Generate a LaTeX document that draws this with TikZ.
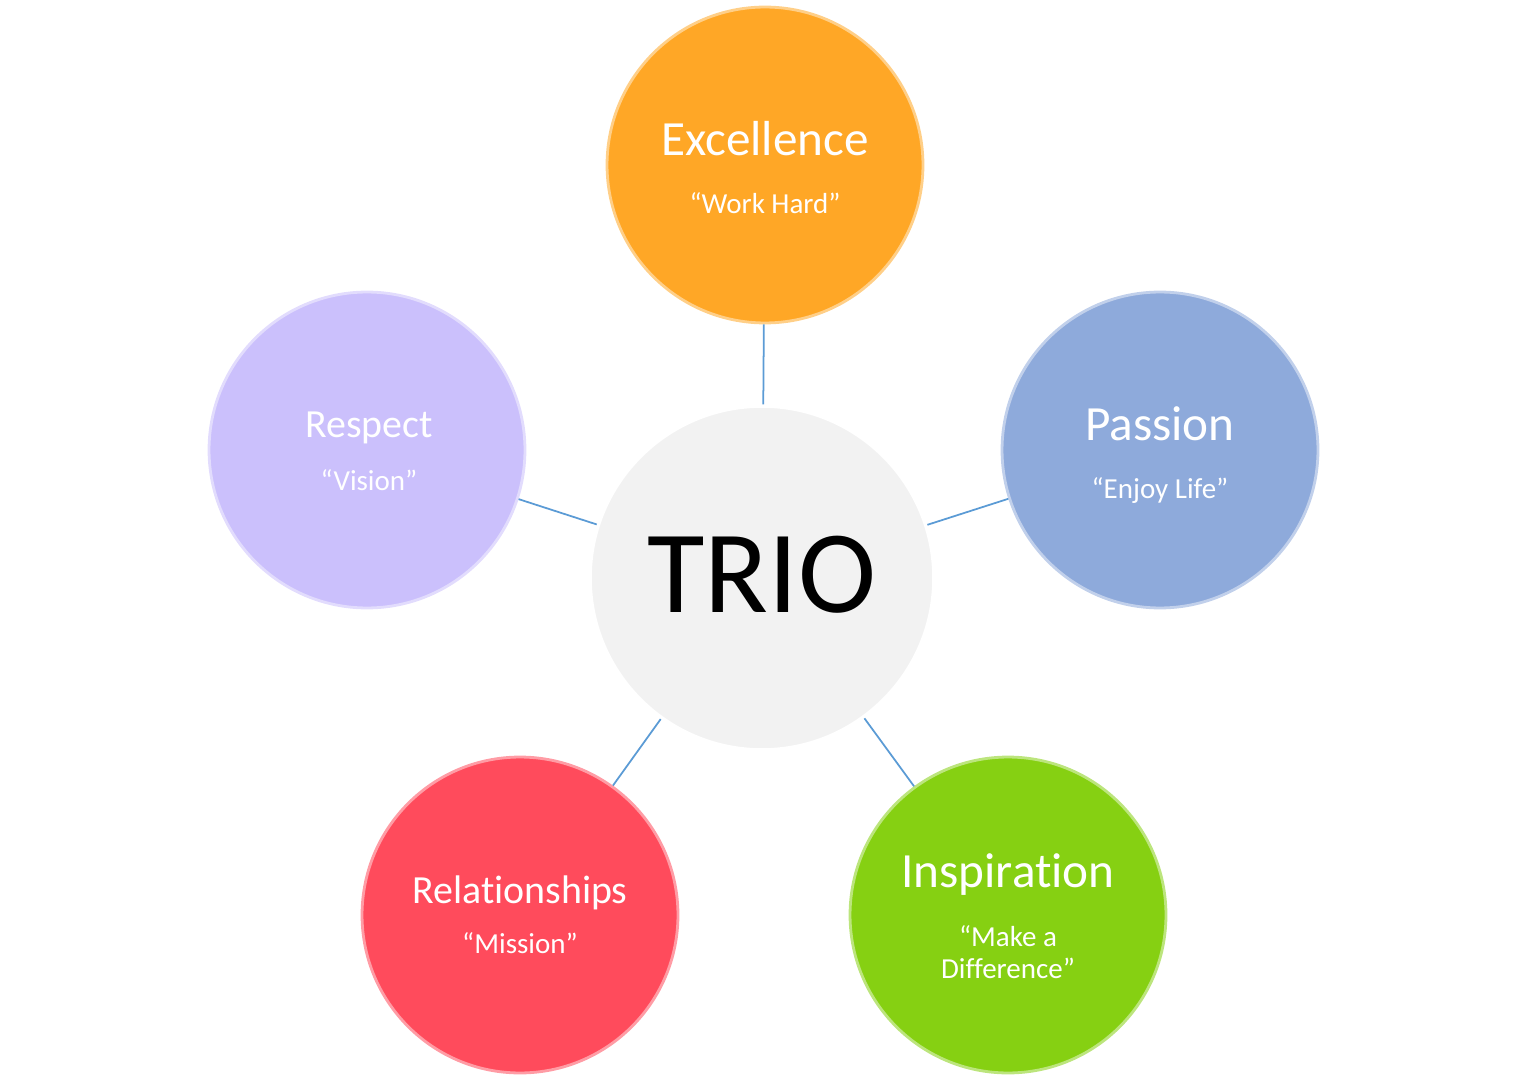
\documentclass[tikz,border=0pt]{standalone}
\usepackage{fontspec}
\setmainfont{Carlito}[Ligatures=NoCommon]
\usepackage{tikz}

\definecolor{excfill}{RGB}{255,167,38}
\definecolor{pasfill}{RGB}{142,170,219}
\definecolor{resfill}{RGB}{203,192,252}
\definecolor{relfill}{RGB}{255,75,92}
\definecolor{insfill}{RGB}{134,208,18}
\definecolor{triofill}{RGB}{242,242,242}
\definecolor{linkblue}{RGB}{91,155,213}

\begin{document}
\begin{tikzpicture}[x=0.02cm,y=-0.02cm,
  bubble/.style={circle,minimum size=6.32cm,inner sep=0pt,line width=1.6pt},
  bigword/.style={anchor=base,text=white,inner sep=0pt,font=\fontsize{28}{32}\selectfont},
  midword/.style={anchor=base,text=white,inner sep=0pt,font=\fontsize{22.7}{27}\selectfont},
  motto/.style={anchor=base,text=white,inner sep=0pt,font=\fontsize{16.5}{19}\selectfont},
  link/.style={draw=linkblue,line width=1pt}]
\useasboundingbox (0,0) rectangle (1527,1077);
\node[circle,minimum size=6.88cm,inner sep=0pt,fill=triofill,draw=white,line width=2pt] (trio) at (762,578) {};
\node[anchor=base,inner sep=0pt,font=\fontsize{67}{70}\selectfont] (triotext) at (762,612) {TRIO};
\node[bubble,fill=excfill,draw=excfill!55!white] (exc) at (765,165) {};
\node[bubble,fill=pasfill,draw=pasfill!55!white] (pas) at (1160,450) {};
\node[bubble,fill=resfill,draw=resfill!55!white] (res) at (367,450) {};
\node[bubble,fill=relfill,draw=relfill!55!white] (rel) at (520,915) {};
\node[bubble,fill=insfill,draw=insfill!55!white] (ins) at (1008,915) {};
\node[bigword] (exctitle) at (765,156) {Excellence};
\node[motto] (excmotto) at (765,214) {“Work Hard”};
\node[bigword] (pastitle) at (1160,440) {Passion};
\node[motto] (pasmotto) at (1160,498) {“Enjoy Life”};
\node[midword] (restitle) at (369,438) {Respect};
\node[motto] (resmotto) at (369,490) {“Vision”};
\node[midword] (reltitle) at (520,903) {Relationships};
\node[motto] (relmotto) at (520,953) {“Mission”};
\node[bigword] (institle) at (1008,887) {Inspiration};
\node[motto] (insmotto) at (1008,946) {“Make a};
\node[motto] (insmotto2) at (1008,978) {Difference”};
\draw[link] (trio) -- (exc);
\draw[link] (trio) -- (pas);
\draw[link] (trio) -- (res);
\draw[link] (trio) -- (rel);
\draw[link] (trio) -- (ins);
\end{tikzpicture}
\end{document}
